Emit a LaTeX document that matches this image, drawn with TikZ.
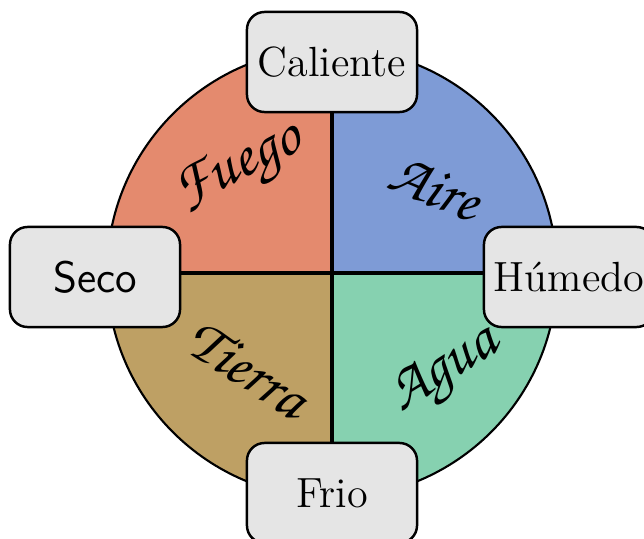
\documentclass[tikz,border=0pt]{standalone}
\usepackage{tikz}
\usetikzlibrary{positioning}
\definecolor{fuegoc}{HTML}{E48A6E}
\definecolor{airec}{HTML}{7E9BD6}
\definecolor{tierrac}{HTML}{BEA064}
\definecolor{aguac}{HTML}{86D1B0}
\definecolor{boxgray}{HTML}{E5E5E5}
\newcommand{\chancery}{\usefont{T1}{pzc}{mb}{it}}
\tikzset{quality/.style={rectangle,rounded corners=5pt,draw,fill=boxgray,line width=.7pt,minimum width=17mm,minimum height=10mm,inner sep=1pt,font=\fontsize{12}{14}\selectfont},element/.style={font=\chancery\fontsize{17.5}{20}\selectfont},rim/.style={line width=.6pt},cross/.style={line width=1.25pt},every picture/.style={line cap=round}}
\begin{document}
\begin{tikzpicture}[x=0.01cm,y=0.01cm]
\useasboundingbox (0,0) rectangle (644,538);
\coordinate (o) at (332,265);
\fill[fuegoc] (o) -- ++(-225,0) arc (180:90:225) -- cycle;
\fill[airec] (o) -- ++(0,225) arc (90:0:225) -- cycle;
\fill[aguac] (o) -- ++(225,0) arc (0:-90:225) -- cycle;
\fill[tierrac] (o) -- ++(0,-225) arc (-90:-180:225) -- cycle;
\draw[rim] (o) circle (225);
\draw[cross] (332,40) -- (332,490) (107,265) -- (557,265);
\node[element,rotate=27] (fuego) at (240,368) {Fuego};
\node[element,rotate=-22] (aire) at (435,350) {Aire};
\node[element,rotate=-33] (tierra) at (248,170) {Tierra};
\node[element,rotate=32] (agua) at (446,165) {Agua};
\node[quality] (caliente) at (332,476) {Caliente};
\node[quality,font=\sffamily\fontsize{12.5}{14}\selectfont] (seco) at (95,261) {Seco};
\node[quality] (humedo) at (569,261) {Húmedo};
\node[quality] (frio) at (332,45) {Frio};
\end{tikzpicture}
\end{document}
